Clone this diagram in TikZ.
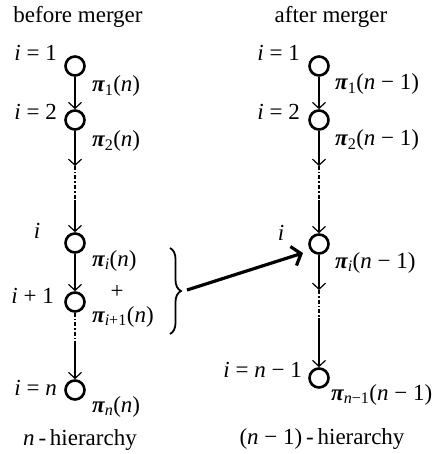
\documentclass[tikz,border=0pt]{standalone}
\usepackage{fontspec}
\setmainfont{Liberation Serif}
\usetikzlibrary{arrows.meta,positioning,decorations.pathreplacing}

\newcommand{\bpi}{{\bfseries\itshape π}}

\begin{document}
\begin{tikzpicture}[x=1pt, y=-1pt, >={Straight Barb[length=6pt,width=13pt]},
  font=\fontsize{23}{27}\selectfont,
  state/.style={circle, draw, line width=2.6pt, minimum size=19pt, inner sep=0pt},
  lbl/.style={inner sep=0pt},
  flow/.style={->, line width=1.2pt},
  gap/.style={line width=1.2pt, dash pattern=on 4pt off 2pt on 1.5pt off 2pt}]
\useasboundingbox (0,0) rectangle (447,454);

% before merger
\node[lbl, anchor=base] (head1) at (78,23) {before merger};
\node[state] (L1) at (75,66) {};
\node[state] (L2) at (75,120) {};
\node[state] (Li) at (75,243) {};
\node[state] (Li1) at (75,302) {};
\node[state] (Ln) at (75,390) {};
\coordinate (La) at (75,166);
\coordinate (Lb) at (75,200);
\coordinate (Lc) at (75,342);

\node[lbl, anchor=base east] (lab1) at (57,61) {\textit{i} = 1};
\node[lbl, anchor=base east] (lab2) at (57,120) {\textit{i} = 2};
\node[lbl, anchor=base] (labi) at (37,238) {\textit{i}};
\node[lbl, anchor=base east] (labi1) at (54,303) {\textit{i} + 1};
\node[lbl, anchor=base east] (labn) at (57,395) {\textit{i} = \textit{n}};
\node[lbl, anchor=base west] (p1) at (92,92) {\bpi\textsubscript{1}(\textit{n})};
\node[lbl, anchor=base west] (p2) at (92,147) {\bpi\textsubscript{2}(\textit{n})};
\node[lbl, anchor=base west] (pi) at (92,266) {\bpi\textsubscript{\textit{i}}(\textit{n})};
\node[lbl, anchor=base] (plus) at (117,298) {+};
\node[lbl, anchor=base west] (pi1) at (92,322) {\bpi\textsubscript{\textit{i}+1}(\textit{n})};
\node[lbl, anchor=base west] (pn) at (92,412) {\bpi\textsubscript{\textit{n}}(\textit{n})};
\node[lbl, anchor=base] (foot1) at (80,445) {\textit{n}\,-\,hierarchy};

\draw[flow] (L1) -- (L2);
\draw[flow] (L2) -- (La);
\draw[gap] (La) -- (Lb);
\draw[flow] (Lb) -- (Li);
\draw[flow] (Li) -- (Li1);
\draw[gap] (Li1) -- (Lc);
\draw[flow] (Lc) -- (Ln);

% after merger
\node[lbl, anchor=base] (head2) at (331,23) {after merger};
\node[state] (R1) at (319,66) {};
\node[state] (R2) at (319,120) {};
\node[state] (Ri) at (319,244) {};
\node[state] (Rn) at (319,378) {};
\coordinate (Ra) at (319,166);
\coordinate (Rb) at (319,200);
\coordinate (Rc) at (319,290);
\coordinate (Rd) at (319,318);

\node[lbl, anchor=base east] (rab1) at (300,61) {\textit{i} = 1};
\node[lbl, anchor=base east] (rab2) at (300,120) {\textit{i} = 2};
\node[lbl, anchor=base] (rabi) at (281,240) {\textit{i}};
\node[lbl, anchor=base east] (rabn) at (302,377) {\textit{i} = \textit{n} − 1};
\node[lbl, anchor=base west] (q1) at (335,90) {\bpi\textsubscript{1}(\textit{n} − 1)};
\node[lbl, anchor=base west] (q2) at (335,146) {\bpi\textsubscript{2}(\textit{n} − 1)};
\node[lbl, anchor=base west] (qi) at (335,268) {\bpi\textsubscript{\textit{i}}(\textit{n} − 1)};
\node[lbl, anchor=base west] (qn) at (331,400) {\bpi\textsubscript{\textit{n}−1}(\textit{n} − 1)};
\node[lbl, anchor=base] (foot2) at (322,444) {(\textit{n} − 1)\,-\,hierarchy};

\draw[flow] (R1) -- (R2);
\draw[flow] (R2) -- (Ra);
\draw[gap] (Ra) -- (Rb);
\draw[flow] (Rb) -- (Ri);
\draw[flow] (Ri) -- (Rc);
\draw[gap] (Rc) -- (Rd);
\draw[flow] (Rd) -- (Rn);

% merger arrow
\coordinate (b1) at (170,248);
\coordinate (b2) at (170,334);
\coordinate (m1) at (187,290);
\coordinate (m2) at (303,253);
\draw[line width=1.8pt, decorate, decoration={brace, amplitude=11pt}] (b1) -- (b2);
\draw[line width=3.2pt, -{Straight Barb[length=8pt,width=20pt]}] (m1) -- (m2);
\end{tikzpicture}
\end{document}
